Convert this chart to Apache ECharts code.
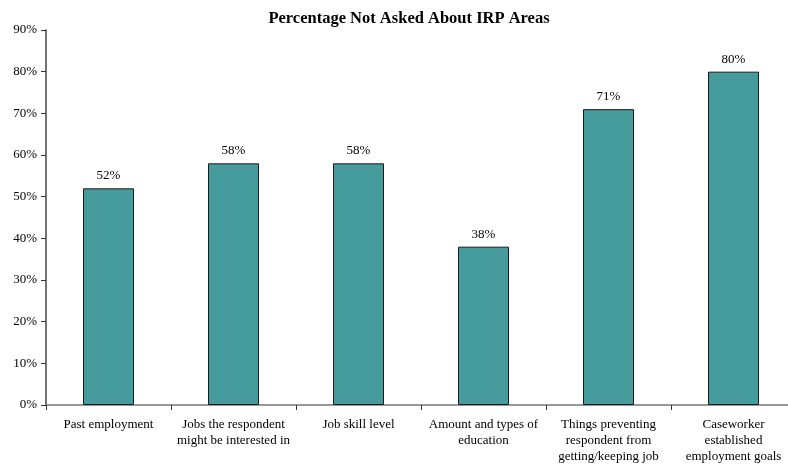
<!DOCTYPE html>
<html>
<head>
<meta charset="utf-8">
<script src="https://cdn.jsdelivr.net/npm/echarts@6/dist/echarts.min.js"></script>
<style>
  html, body { margin: 0; padding: 0; background: #fff; overflow: hidden; }
  #chart { width: 800px; height: 465px; }
</style>
</head>
<body>
<div id="chart"></div>
<script>
const categories = [
  'Past employment',
  'Jobs the respondent\nmight be interested in',
  'Job skill level',
  'Amount and types of\neducation',
  'Things preventing\nrespondent from\ngetting/keeping job',
  'Caseworker\nestablished\nemployment goals'
];
const percentNotAsked = [52, 58, 58, 38, 71, 80];
const yTicks = [0, 10, 20, 30, 40, 50, 60, 70, 80, 90];

const serif = '"Liberation Serif", "Times New Roman", serif';
const chart = echarts.init(document.getElementById('chart'), null, { renderer: 'canvas' });

chart.setOption({
  animation: false,
  title: {
    text: 'Percentage Not Asked About IRP Areas',
    left: 404,
    textAlign: 'center',
    top: 5,
    textStyle: { fontFamily: serif, fontSize: 16.5, fontWeight: 'bold', color: '#000' }
  },
  grid: { left: 46, top: 30, width: 750, height: 375 },
  xAxis: {
    type: 'category',
    data: categories,
    axisLine: { lineStyle: { color: '#777', width: 1.5 } },
    axisTick: { show: true, alignWithLabel: false, length: 5, lineStyle: { color: '#333' } },
    axisLabel: {
      interval: 0, margin: 12, color: '#000',
      fontFamily: serif, fontSize: 13, lineHeight: 16, align: 'center'
    }
  },
  yAxis: {
    type: 'value',
    min: yTicks[0],
    max: yTicks[yTicks.length - 1],
    interval: 10,
    splitLine: { show: false },
    axisLine: { show: true, lineStyle: { color: '#444', width: 1.5 } },
    axisTick: { show: true, length: 5, lineStyle: { color: '#333' } },
    axisLabel: {
      color: '#000', fontFamily: serif, fontSize: 13, margin: 9,
      formatter: v => v + '%'
    }
  },
  series: [{
    type: 'bar',
    data: percentNotAsked,
    barWidth: 51,
    itemStyle: { color: '#469C9C', borderColor: '#1a1a1a', borderWidth: 1 },
    label: {
      show: true, position: 'top', distance: 6, color: '#000',
      fontFamily: serif, fontSize: 13,
      formatter: p => p.value + '%'
    }
  }]
});
</script>
</body>
</html>
